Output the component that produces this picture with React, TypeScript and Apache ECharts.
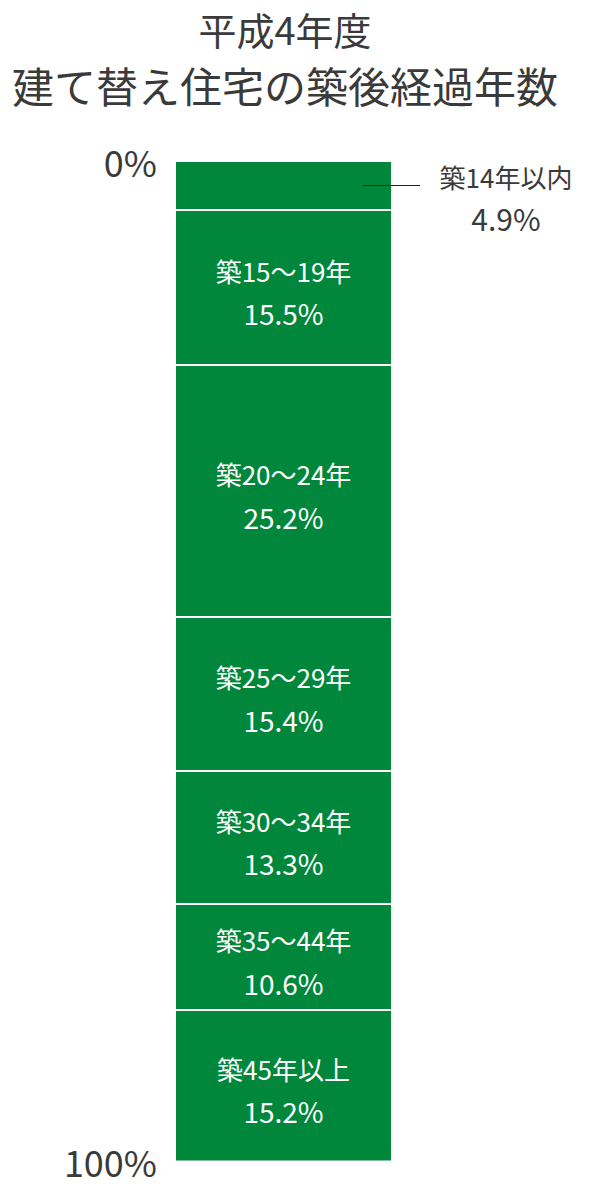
import { useEffect, useRef } from 'react';
import * as echarts from 'echarts';

// 建て替え住宅の築後経過年数（平成4年度）
const periodLabel = '平成4年度';
const categories = ['築14年以内', '築15〜19年', '築20〜24年', '築25〜29年', '築30〜34年', '築35〜44年', '築45年以上'];
const shares = [4.9, 15.5, 25.2, 15.4, 13.3, 10.6, 15.2];
const axisTicks = [0, 100];

const GREEN = '#00873c';
const INK = '#3a3a3a';
const FONT = '"Noto Sans CJK JP", "Noto Sans", sans-serif';

export default function App() {
  const chartRef = useRef<HTMLDivElement>(null);

  useEffect(() => {
    if (!chartRef.current) return;
    const chart = echarts.init(chartRef.current, undefined, { renderer: 'svg' });

    const series = categories.map((name, i) => {
      const outside = i === 0;
      return {
        name,
        type: 'bar',
        stack: 'total',
        barWidth: '100%',
        data: [shares[i]],
        itemStyle: { color: GREEN, borderColor: '#ffffff', borderWidth: 1 },
        label: outside
          ? {
              show: true,
              position: [331, -4],
              align: 'center',
              verticalAlign: 'top',
              formatter: `{n|${name}}\n{v|${shares[i].toFixed(1)}%}`,
              rich: {
                n: { fontSize: 26, lineHeight: 38, color: INK, fontFamily: FONT },
                v: { fontSize: 30, lineHeight: 46, color: INK, fontFamily: FONT },
              },
            }
          : {
              show: true,
              position: 'inside',
              offset: [0, 4],
              formatter: `{n|${name}}\n{v|${shares[i].toFixed(1)}%}`,
              rich: {
                n: { fontSize: 26, lineHeight: 43, color: '#ffffff', fontFamily: FONT },
                v: { fontSize: 28, lineHeight: 43, color: '#ffffff', fontFamily: FONT },
              },
            },
      };
    });

    chart.setOption({
      animation: false,
      textStyle: { fontFamily: FONT },
      title: {
        text: periodLabel,
        subtext: '建て替え住宅の築後経過年数',
        left: 280,
        textAlign: 'center',
        top: 4,
        itemGap: 16,
        textStyle: { fontSize: 38, fontWeight: 'normal', color: INK, fontFamily: FONT },
        subtextStyle: { fontSize: 42, color: INK, fontFamily: FONT },
      },
      grid: { left: 175, top: 161, width: 217, height: 1000 },
      xAxis: {
        type: 'category',
        data: [periodLabel],
        show: false,
      },
      yAxis: {
        type: 'value',
        inverse: true,
        min: axisTicks[0],
        max: axisTicks[1],
        interval: 100,
        axisLine: { show: false },
        axisTick: { show: false },
        splitLine: { show: false },
        axisLabel: {
          formatter: '{value}%',
          fontSize: 36,
          color: INK,
          margin: 18,
          fontFamily: FONT,
        },
      },
      series,
    });

    // leader line for the small top segment
    const y = chart.convertToPixel({ yAxisIndex: 0 }, shares[0] / 2) as number;
    chart.setOption({
      graphic: [
        {
          type: 'line',
          shape: { x1: 363, y1: y, x2: 420, y2: y },
          style: { stroke: '#222', lineWidth: 1 },
          z: 100,
        },
      ],
    });

    return () => chart.dispose();
  }, []);

  return (
    <div
      ref={chartRef}
      style={{ position: 'absolute', left: 0, top: 0, width: 592, height: 1190, background: '#fff' }}
    />
  );
}
